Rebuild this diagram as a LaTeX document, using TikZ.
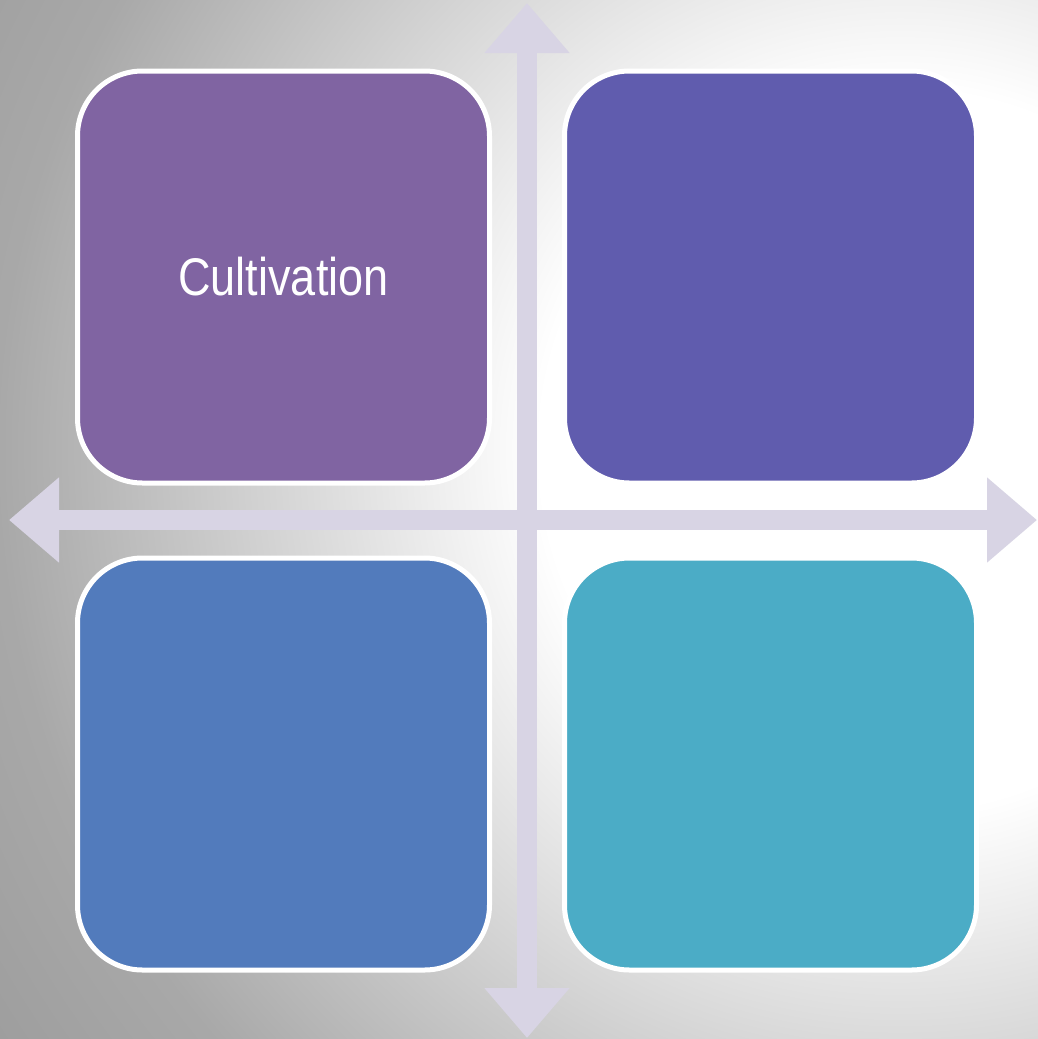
\documentclass[tikz,border=0pt]{standalone}
\usepackage{fontspec}
\newfontfamily\quadfont[FakeStretch=0.85]{Liberation Sans}
\usetikzlibrary{arrows.meta,positioning}
\definecolor{cultpurple}{HTML}{8064A2}
\definecolor{quadindigo}{HTML}{605CAE}
\definecolor{quadblue}{HTML}{527BBC}
\definecolor{quadteal}{HTML}{4BACC6}
\definecolor{axislilac}{HTML}{D8D4E4}
\pgfdeclareradialshading{bgglow}{\pgfpoint{0bp}{0bp}}{%
color(0bp)=(white); color(7.5bp)=(white); color(18.8bp)=(black!34); color(22.4bp)=(black!38); color(50bp)=(black!40)}

\begin{document}
\begin{tikzpicture}[
x=0.5pt, y=-0.5pt,
quadrant/.style={
rectangle,
rounded corners=32.5pt,
draw=white,
line width=2.5pt,
minimum width=206pt,
minimum height=206pt,
align=center,
text=white,
font=\quadfont\fontsize{26.5}{30}\selectfont
},
axis/.style={axislilac, line width=10pt,
{Triangle[length=25pt,width=41pt]}-{Triangle[length=25pt,width=41pt]}}
]

% background
\useasboundingbox (0,0) rectangle (1038,1039);
\begin{scope}
\clip (0,0) rectangle (1038,1039);
\shade[shading=bgglow] (900,450) circle (1200);
\end{scope}

% axes
\coordinate (north) at (527,3);
\coordinate (south) at (527,1038);
\coordinate (west) at (9,520);
\coordinate (east) at (1037,520);
\draw[axis] (west) -- (east);
\draw[axis] (south) -- (north);

% quadrants
\node[quadrant, fill=cultpurple] (cult) at (283.5,277) {Cultivation};
\node[quadrant, fill=quadindigo, right=35pt of cult] (ne) {};
\node[quadrant, fill=quadblue, below=35pt of cult] (sw) {};
\node[quadrant, fill=quadteal, right=35pt of sw] (se) {};

\end{tikzpicture}
\end{document}
